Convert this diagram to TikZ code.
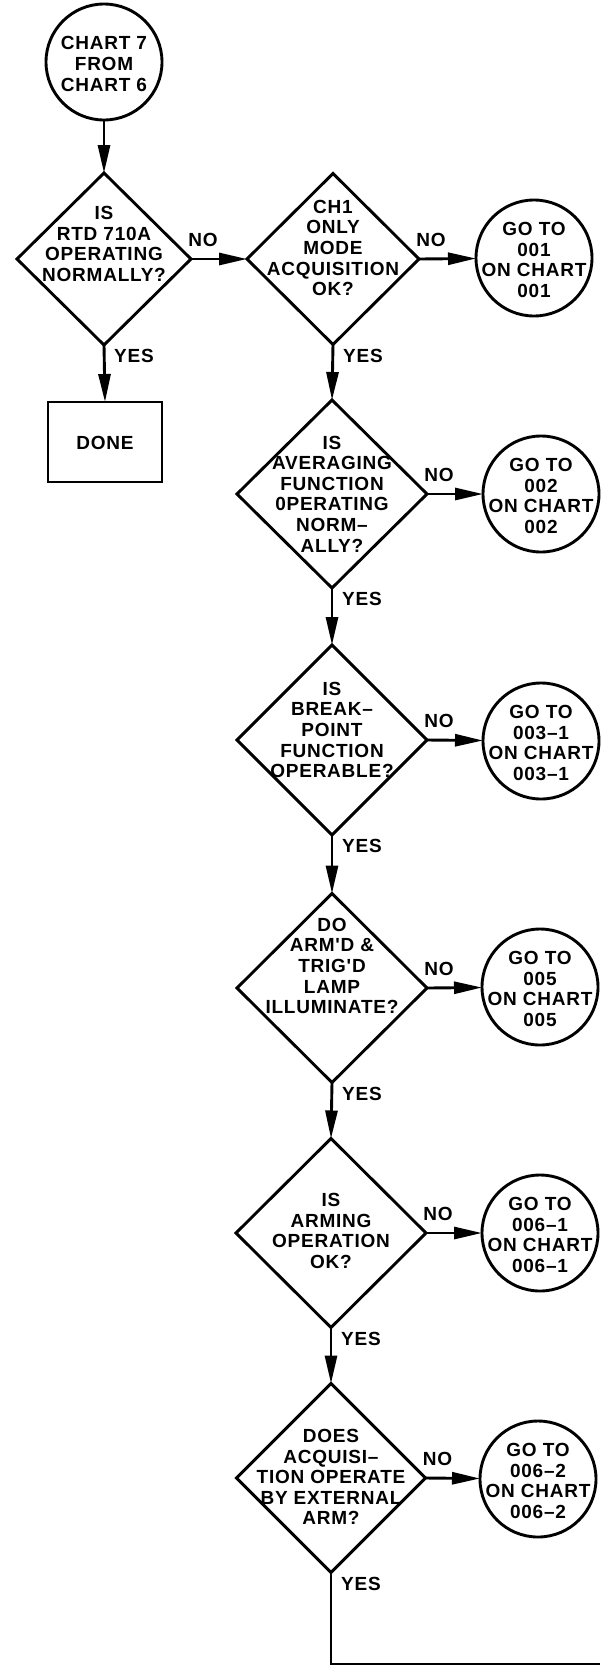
\documentclass[tikz,border=0pt]{standalone}
\usepackage{fontspec}
\newfontfamily\chartfont{Liberation Sans}[LetterSpace=4]
\usetikzlibrary{shapes.geometric,arrows.meta}
\begin{document}
\begin{tikzpicture}[x=1pt,y=-1pt,
  dia/.style={draw, diamond, inner sep=0pt, outer sep=0pt, line width=2.9pt, line join=miter},
  circ/.style={draw, circle, minimum size=116pt, inner sep=0pt, outer sep=0pt, line width=2.9pt},
  boxnode/.style={draw, rectangle, minimum width=114pt, minimum height=80pt, inner sep=0pt, outer sep=0pt, line width=2.9pt},
  txt/.style={align=center, font=\chartfont\bfseries\fontsize{19}{20.6}\selectfont, inner sep=0pt},
  lbl/.style={font=\chartfont\bfseries\fontsize{19}{20.6}\selectfont, inner sep=0pt},
  flow/.style={line width=2.9pt, -{Triangle[length=28pt,width=12pt]}},
  plain/.style={line width=2.9pt}
]
\useasboundingbox (0,0) rectangle (601,1668);

% start
\node[circ] (start) at (104,62) {};
\node[txt] (starttxt) at (104,64) {CHART 7\\FROM\\CHART 6};

% diamond 1
\node[dia, minimum width=174pt, minimum height=172pt] (d1) at (104,259) {};
\node[txt] (d1txt) at (104,244) {IS\\RTD 710A\\OPERATING\\NORMALLY?};

% done
\node[boxnode] (done) at (105,442) {};
\node[txt] (donetxt) at (105,443) {DONE};

% diamond 2
\node[dia, minimum width=172pt, minimum height=171pt] (d2) at (333,259) {};
\node[txt] (d2txt) at (333,248) {CH1\\ONLY\\MODE\\ACQUISITION\\OK?};
\node[circ] (c1) at (534,258) {};
\node[txt] (c1txt) at (534,260) {GO TO\\001\\ON CHART\\001};

% diamond 3
\node[dia, minimum width=190pt, minimum height=188pt] (d3) at (332,494) {};
\node[txt] (d3txt) at (332,494) {IS\\AVERAGING\\FUNCTION\\0PERATING\\NORM–\\ALLY?};
\node[circ] (c2) at (541,494) {};
\node[txt] (c2txt) at (541,496) {GO TO\\002\\ON CHART\\002};

% diamond 4
\node[dia, minimum width=190pt, minimum height=190pt] (d4) at (332,740) {};
\node[txt] (d4txt) at (332,730) {IS\\BREAK–\\POINT\\FUNCTION\\OPERABLE?};
\node[circ] (c3) at (541,741) {};
\node[txt] (c3txt) at (541,743) {GO TO\\003–1\\ON CHART\\003–1};

% diamond 5
\node[dia, minimum width=190pt, minimum height=189pt] (d5) at (332,988) {};
\node[txt] (d5txt) at (332,966) {DO\\ARM'D \&\\TRIG'D\\LAMP\\ILLUMINATE?};
\node[circ] (c4) at (540,987) {};
\node[txt] (c4txt) at (540,989) {GO TO\\005\\ON CHART\\005};

% diamond 6
\node[dia, minimum width=190pt, minimum height=189pt] (d6) at (331,1233) {};
\node[txt] (d6txt) at (331,1231) {IS\\ARMING\\OPERATION\\OK?};
\node[circ] (c5) at (540,1233) {};
\node[txt] (c5txt) at (540,1235) {GO TO\\006–1\\ON CHART\\006–1};

% diamond 7
\node[dia, minimum width=189pt, minimum height=189pt] (d7) at (331,1478) {};
\node[txt] (d7txt) at (331,1477) {DOES\\ACQUISI–\\TION OPERATE\\BY EXTERNAL\\ARM?};
\node[circ] (c6) at (538,1479) {};
\node[txt] (c6txt) at (538,1481) {GO TO\\006–2\\ON CHART\\006–2};

\coordinate (corner) at (331,1664);
\coordinate (tail) at (600,1664);

% connectors
\draw[flow] (start) -- (d1.north);
\draw[flow] (d1.east) -- (d2.west);
\draw[flow] (d1.south) -- (done.north);
\draw[flow] (d2.east) -- (c1);
\draw[flow] (d2.south) -- (d3.north);
\draw[flow] (d3.east) -- (c2);
\draw[flow] (d3.south) -- (d4.north);
\draw[flow] (d4.east) -- (c3);
\draw[flow] (d4.south) -- (d5.north);
\draw[flow] (d5.east) -- (c4);
\draw[flow] (d5.south) -- (d6.north);
\draw[flow] (d6.east) -- (c5);
\draw[flow] (d6.south) -- (d7.north);
\draw[flow] (d7.east) -- (c6);
\draw[plain] (d7.south) -- (corner) -- (tail);

% labels
\node[lbl] (n1) at ([shift={(12,-19)}]d1.east) {NO};
\node[lbl] (y1) at ([shift={(30,11)}]d1.south) {YES};
\node[lbl] (n2) at ([shift={(12,-19)}]d2.east) {NO};
\node[lbl] (y2) at ([shift={(30,11)}]d2.south) {YES};
\node[lbl] (n3) at ([shift={(12,-19)}]d3.east) {NO};
\node[lbl] (y3) at ([shift={(30,11)}]d3.south) {YES};
\node[lbl] (n4) at ([shift={(12,-19)}]d4.east) {NO};
\node[lbl] (y4) at ([shift={(30,11)}]d4.south) {YES};
\node[lbl] (n5) at ([shift={(12,-19)}]d5.east) {NO};
\node[lbl] (y5) at ([shift={(30,11)}]d5.south) {YES};
\node[lbl] (n6) at ([shift={(12,-19)}]d6.east) {NO};
\node[lbl] (y6) at ([shift={(30,11)}]d6.south) {YES};
\node[lbl] (n7) at ([shift={(12,-19)}]d7.east) {NO};
\node[lbl] (y7) at ([shift={(30,11)}]d7.south) {YES};
\end{tikzpicture}
\end{document}
